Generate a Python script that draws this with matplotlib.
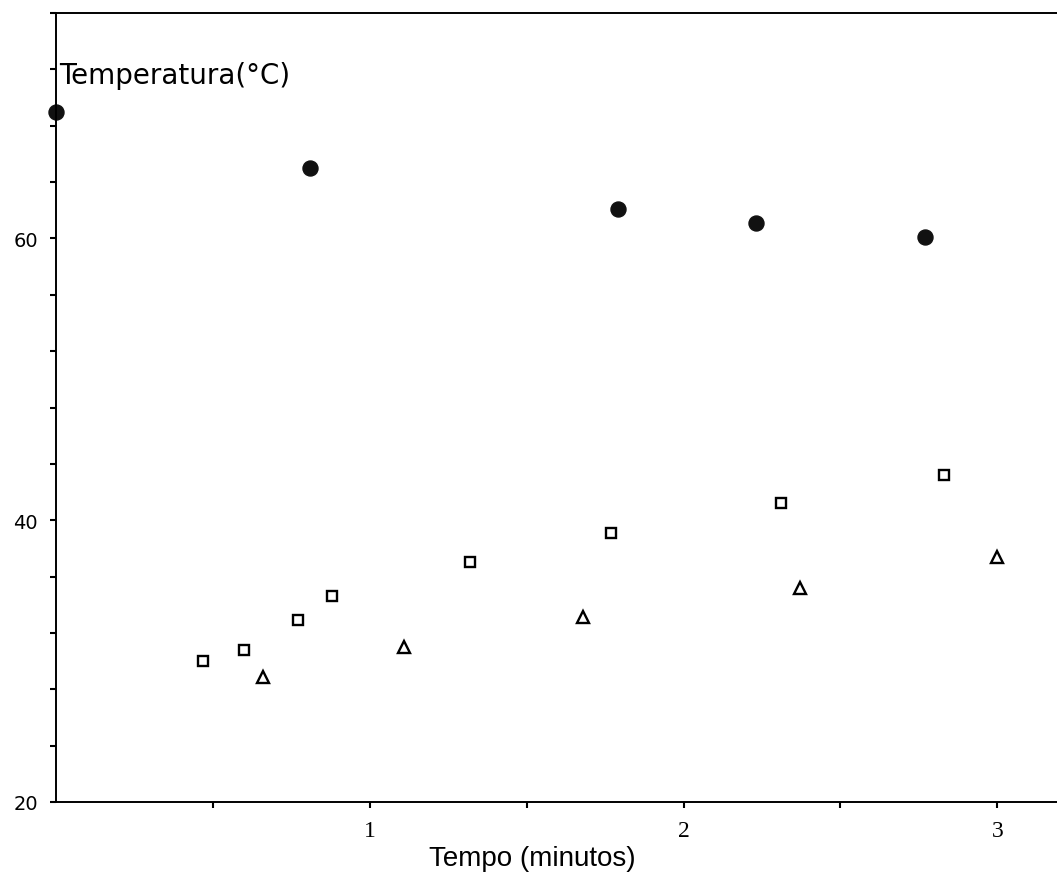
import matplotlib
matplotlib.use("Agg")
import matplotlib.pyplot as plt

# Data (time in minutes, temperature in °C)
circle_x = [0.0, 0.81, 1.79, 2.23, 2.77]
circle_y = [69.0, 65.0, 62.1, 61.1, 60.1]

square_x = [0.47, 0.60, 0.77, 0.88, 1.32, 1.77, 2.31, 2.83]
square_y = [30.0, 30.8, 32.9, 34.6, 37.0, 39.1, 41.2, 43.2]

triangle_x = [0.66, 1.11, 1.68, 2.37, 3.00]
triangle_y = [28.9, 31.0, 33.1, 35.2, 37.4]

y_ticks = list(range(20, 77, 4))
y_labels = {20: "20", 40: "40", 60: "60"}
x_ticks = [0.5, 1.0, 1.5, 2.0, 2.5, 3.0]
x_labels = {1.0: "1", 2.0: "2", 3.0: "3"}

fig = plt.figure(figsize=(10.57, 8.78), dpi=100)
ax = fig.add_axes([56/1057, 1 - 803/878, 1 - 56/1057, (803 - 14)/878])

ax.plot(circle_x, circle_y, linestyle="none", marker="o", markersize=10.8,
        markerfacecolor="#111111", markeredgecolor="#111111", clip_on=False)
ax.plot(square_x, square_y, linestyle="none", marker="s", markersize=7.4,
        markerfacecolor="white", markeredgecolor="black", markeredgewidth=1.7)
ax.plot(triangle_x, triangle_y, linestyle="none", marker="^", markersize=8.5,
        markerfacecolor="white", markeredgecolor="black", markeredgewidth=1.7)

ax.set_xlim(0, 3.19)
ax.set_ylim(20, 76)

ax.spines["right"].set_visible(False)
for s in ["left", "bottom", "top"]:
    ax.spines[s].set_linewidth(1.4)
    ax.spines[s].set_color("black")

ax.set_yticks(y_ticks)
ax.set_yticklabels([y_labels.get(v, "") for v in y_ticks],
                   fontfamily="DejaVu Sans", fontsize=14)
ax.set_xticks(x_ticks)
ax.set_xticklabels([x_labels.get(v, "") for v in x_ticks],
                   fontfamily="Liberation Serif", fontsize=17)
ax.tick_params(axis="y", direction="out", length=4, width=1.5, pad=9)
ax.tick_params(axis="x", direction="out", length=4, width=1.5, pad=9)

ax.set_xlabel("Tempo (minutos)", fontfamily="Liberation Sans", fontsize=20)
ax.xaxis.set_label_coords((532 - 56) / 1001, -(846 - 803) / 789)

ax.text(0.003, (803 - 84) / 789, "Temperatura(°C)", transform=ax.transAxes,
        fontfamily="DejaVu Sans", fontsize=20, va="baseline", ha="left")

fig.savefig("out.png", dpi=100)
